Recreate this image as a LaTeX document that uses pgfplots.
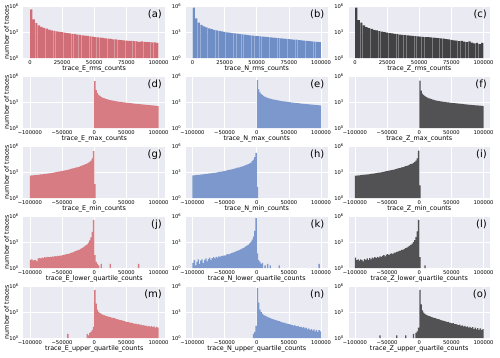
\documentclass[border=0pt]{standalone}
\usepackage{fontspec}
\setmainfont{DejaVu Sans}
\usepackage{pgfplots}
\pgfplotsset{compat=1.18}
\definecolor{bgc}{RGB}{234,234,242}
\definecolor{redc}{RGB}{207,110,118}
\definecolor{bluec}{RGB}{112,142,198}
\definecolor{grayc}{RGB}{66,66,68}
\definecolor{redd}{RGB}{214,124,130}
\definecolor{blued}{RGB}{124,152,204}
\definecolor{grayd}{RGB}{82,82,84}
\pgfplotsset{
  histpanel/.style={
    scale only axis, width=141.5pt, height=52pt, anchor=north west,
    ymin=1, ymax=1.1e6,
    ytick={1,1000,1000000},
    yticklabels={10\textsuperscript{0},10\textsuperscript{3},10\textsuperscript{6}},
    scaled x ticks=false,
    axis background/.style={fill=bgc},
    axis line style={draw=none},
    major tick length=0pt, minor tick length=0pt,
    grid=major, grid style={white, line width=0.6pt},
    tick label style={font=\fontsize{5.2}{6}\selectfont, inner sep=0pt},
    xticklabel style={anchor=north, yshift=-2pt},
    yticklabel style={anchor=east, xshift=-4.5pt},
    xlabel style={font=\fontsize{6.4}{7}\selectfont, at={(axis description cs:0.5,0)}, anchor=center, yshift=-10.7pt},
    ylabel style={font=\fontsize{6.3}{7}\selectfont, at={(axis description cs:-0.12,0.5)}, anchor=center},
    ybar, bar shift=0pt,
  },
  rmsrange/.style={xmin=-5000, xmax=105000, xtick={0,25000,50000,75000,100000},
    xticklabels={0,25000,50000,75000,100000}, bar width=2.2pt},
  symrange/.style={xmin=-110000, xmax=110000, xtick={-100000,-50000,0,50000,100000},
    xticklabels={−100000,−50000,0,50000,100000}, bar width=1.29pt},
}
\tikzset{
  histbars/.style={fill=#1, draw=none},
  densebars/.style={fill=#1, draw=none},
}
\newcommand{\panellabel}[1]{\node[anchor=north east, inner sep=0pt, font=\fontsize{10}{12}\selectfont, xshift=-3pt, yshift=-3.3pt] at (rel axis cs:1,1) {(#1)};}

\begin{document}
\begin{tikzpicture}
\useasboundingbox (0,0) rectangle (500pt,-357pt);

% ---------------- row 1: rms ----------------
\begin{axis}[ymode=log, histpanel, rmsrange, at={(23.5pt,-6pt)}, xlabel={trace\_E\_rms\_counts}, ylabel={number of traces}]
\addplot[histbars=redc] coordinates {
(1000,446700) (3000,31620) (5000,11220) (7000,6310) (9000,4169) (11000,3162) (13000,2512) (15000,1995) (17000,1660) (19000,1413)
(21000,1230) (23000,1096) (25000,1000) (27000,891) (29000,794) (31000,724) (33000,646) (35000,589) (37000,525) (39000,479)
(41000,437) (43000,398) (45000,363) (47000,331) (49000,302) (51000,275) (53000,251) (55000,234) (57000,214) (59000,195)
(61000,182) (63000,170) (65000,151) (67000,145) (69000,129) (71000,120) (73000,110) (75000,102) (77000,98) (79000,96)
(81000,89) (83000,85) (85000,76) (87000,84) (89000,74) (91000,71) (93000,70) (95000,65) (97000,64) (99000,59)
};
\panellabel{a}
\end{axis}

\begin{axis}[ymode=log, histpanel, rmsrange, at={(186pt,-6pt)}, xlabel={trace\_N\_rms\_counts}]
\addplot[histbars=bluec] coordinates {
(1000,707900) (3000,39810) (5000,12590) (7000,7079) (9000,4786) (11000,3548) (13000,2754) (15000,2239) (17000,1862) (19000,1585)
(21000,1380) (23000,1202) (25000,1072) (27000,955) (29000,871) (31000,794) (33000,724) (35000,661) (37000,603) (39000,550)
(41000,513) (43000,468) (45000,437) (47000,407) (49000,380) (51000,355) (53000,331) (55000,309) (57000,288) (59000,269)
(61000,251) (63000,234) (65000,219) (67000,209) (69000,195) (71000,182) (73000,170) (75000,158) (77000,151) (79000,141)
(81000,135) (83000,120) (85000,112) (87000,105) (89000,100) (91000,91) (93000,83) (95000,79) (97000,74) (99000,71)
};
\panellabel{b}
\end{axis}

\begin{axis}[ymode=log, histpanel, rmsrange, at={(348.5pt,-6pt)}, xlabel={trace\_Z\_rms\_counts}]
\addplot[histbars=grayc] coordinates {
(1000,707900) (3000,25120) (5000,12590) (7000,6310) (9000,3981) (11000,3020) (13000,2399) (15000,1905) (17000,1585) (19000,1349)
(21000,1148) (23000,1000) (25000,891) (27000,794) (29000,724) (31000,646) (33000,589) (35000,537) (37000,490) (39000,457)
(41000,417) (43000,389) (45000,363) (47000,347) (49000,331) (51000,309) (53000,288) (55000,275) (57000,263) (59000,245)
(61000,234) (63000,219) (65000,204) (67000,191) (69000,174) (71000,158) (73000,145) (75000,126) (77000,112) (79000,105)
(81000,89) (83000,95) (85000,79) (87000,71) (89000,83) (91000,63) (93000,50) (95000,56) (97000,40) (99000,56)
};
\panellabel{c}
\end{axis}

% ---------------- row 2: max ----------------
\begin{axis}[ymode=log, histpanel, symrange, at={(23.5pt,-76pt)}, xlabel={trace\_E\_max\_counts}, ylabel={number of traces}]
\addplot[densebars=redd] coordinates {
(1000,281800) (3000,25120) (5000,11220) (7000,7079) (9000,5248) (11000,4169) (13000,3467) (15000,2951) (17000,2570) (19000,2291)
(21000,2089) (23000,1905) (25000,1738) (27000,1622) (29000,1514) (31000,1413) (33000,1318) (35000,1259) (37000,1175) (39000,1122)
(41000,1072) (43000,1023) (45000,977) (47000,933) (49000,891) (51000,851) (53000,813) (55000,776) (57000,759) (59000,724)
(61000,692) (63000,676) (65000,646) (67000,631) (69000,603) (71000,589) (73000,562) (75000,550) (77000,525) (79000,513)
(81000,490) (83000,479) (85000,457) (87000,447) (89000,427) (91000,417) (93000,398) (95000,389) (97000,372) (99000,355)
};
\panellabel{d}
\end{axis}

\begin{axis}[ymode=log, histpanel, symrange, at={(186pt,-76pt)}, xlabel={trace\_N\_max\_counts}]
\addplot[densebars=blued] coordinates {
(1000,354800) (3000,31620) (5000,14130) (7000,8913) (9000,6607) (11000,5248) (13000,4266) (15000,3631) (17000,3162) (19000,2818)
(21000,2512) (23000,2291) (25000,2089) (27000,1950) (29000,1820) (31000,1698) (33000,1585) (35000,1479) (37000,1413) (39000,1318)
(41000,1259) (43000,1202) (45000,1148) (47000,1096) (49000,1047) (51000,1000) (53000,955) (55000,912) (57000,871) (59000,851)
(61000,813) (63000,776) (65000,759) (67000,724) (69000,692) (71000,676) (73000,646) (75000,631) (77000,603) (79000,589)
(81000,562) (83000,550) (85000,525) (87000,513) (89000,490) (91000,479) (93000,457) (95000,447) (97000,427) (99000,417)
};
\panellabel{e}
\end{axis}

\begin{axis}[ymode=log, histpanel, symrange, at={(348.5pt,-76pt)}, xlabel={trace\_Z\_max\_counts}]
\addplot[densebars=grayd] coordinates {
(1000,316200) (3000,22390) (5000,10000) (7000,6607) (9000,5012) (11000,3981) (13000,3311) (15000,2818) (17000,2512) (19000,2239)
(21000,1995) (23000,1820) (25000,1660) (27000,1549) (29000,1445) (31000,1349) (33000,1259) (35000,1202) (37000,1122) (39000,1072)
(41000,1023) (43000,977) (45000,933) (47000,891) (49000,851) (51000,813) (53000,794) (55000,759) (57000,724) (59000,708)
(61000,676) (63000,661) (65000,631) (67000,617) (69000,589) (71000,575) (73000,550) (75000,537) (77000,513) (79000,501)
(81000,479) (83000,468) (85000,457) (87000,437) (89000,427) (91000,417) (93000,398) (95000,389) (97000,380) (99000,363)
};
\panellabel{f}
\end{axis}

% ---------------- row 3: min ----------------
\begin{axis}[ymode=log, histpanel, symrange, at={(23.5pt,-146pt)}, xlabel={trace\_E\_min\_counts}, ylabel={number of traces}]
\addplot[densebars=redd] coordinates {
(-99000,398) (-97000,417) (-95000,427) (-93000,447) (-91000,468) (-89000,490) (-87000,501) (-85000,525) (-83000,550) (-81000,562)
(-79000,589) (-77000,617) (-75000,646) (-73000,676) (-71000,708) (-69000,741) (-67000,794) (-65000,832) (-63000,891) (-61000,933)
(-59000,1000) (-57000,1072) (-55000,1148) (-53000,1230) (-51000,1318) (-49000,1413) (-47000,1514) (-45000,1660) (-43000,1778) (-41000,1905)
(-39000,2089) (-37000,2291) (-35000,2512) (-33000,2754) (-31000,3020) (-29000,3311) (-27000,3631) (-25000,3981) (-23000,4467) (-21000,5012)
(-19000,5623) (-17000,6457) (-15000,7586) (-13000,8710) (-11000,10230) (-9000,12590) (-7000,15850) (-5000,22390) (-3000,39810) (-1000,281800)
(1000,40)
};
\panellabel{g}
\end{axis}

\begin{axis}[ymode=log, histpanel, symrange, at={(186pt,-146pt)}, xlabel={trace\_N\_min\_counts}]
\addplot[densebars=blued] coordinates {
(-99000,427) (-97000,437) (-95000,457) (-93000,468) (-91000,490) (-89000,501) (-87000,525) (-85000,550) (-83000,562) (-81000,589)
(-79000,617) (-77000,646) (-75000,676) (-73000,708) (-71000,741) (-69000,776) (-67000,813) (-65000,851) (-63000,912) (-61000,955)
(-59000,1023) (-57000,1096) (-55000,1175) (-53000,1259) (-51000,1349) (-49000,1445) (-47000,1549) (-45000,1698) (-43000,1820) (-41000,1950)
(-39000,2138) (-37000,2344) (-35000,2570) (-33000,2818) (-31000,3090) (-29000,3388) (-27000,3715) (-25000,4074) (-23000,4571) (-21000,5129)
(-19000,5754) (-17000,6607) (-15000,7762) (-13000,8913) (-11000,10470) (-9000,13180) (-7000,19950) (-5000,28180) (-3000,56230) (-1000,177800)
(1000,20)
};
\panellabel{h}
\end{axis}

\begin{axis}[ymode=log, histpanel, symrange, at={(348.5pt,-146pt)}, xlabel={trace\_Z\_min\_counts}]
\addplot[densebars=grayd] coordinates {
(-99000,389) (-97000,407) (-95000,417) (-93000,437) (-91000,457) (-89000,479) (-87000,490) (-85000,513) (-83000,537) (-81000,550)
(-79000,575) (-77000,603) (-75000,631) (-73000,661) (-71000,692) (-69000,724) (-67000,776) (-65000,813) (-63000,871) (-61000,912)
(-59000,977) (-57000,1047) (-55000,1122) (-53000,1202) (-51000,1288) (-49000,1380) (-47000,1479) (-45000,1622) (-43000,1738) (-41000,1862)
(-39000,2042) (-37000,2239) (-35000,2455) (-33000,2692) (-31000,2951) (-29000,3236) (-27000,3548) (-25000,3890) (-23000,4365) (-21000,4898)
(-19000,5495) (-17000,6310) (-15000,7413) (-13000,8511) (-11000,10000) (-9000,12300) (-7000,15490) (-5000,21880) (-3000,38900) (-1000,316200)
(1000,30)
};
\panellabel{i}
\end{axis}

% ---------------- row 4: lower quartile ----------------
\begin{axis}[ymode=log, histpanel, symrange, at={(23.5pt,-216pt)}, xlabel={trace\_E\_lower\_quartile\_counts}, ylabel={number of traces}]
\addplot[densebars=redd] coordinates {
(-99000,9) (-97000,10) (-95000,7) (-93000,9) (-91000,8) (-89000,6) (-87000,13) (-85000,14) (-83000,13) (-81000,16)
(-79000,14) (-77000,18) (-75000,16) (-73000,20) (-71000,18) (-69000,20) (-67000,19) (-65000,22) (-63000,20) (-61000,24)
(-59000,22) (-57000,26) (-55000,25) (-53000,28) (-51000,27) (-49000,32) (-47000,33) (-45000,35) (-43000,40) (-41000,42)
(-39000,48) (-37000,52) (-35000,60) (-33000,66) (-31000,79) (-29000,89) (-27000,105) (-25000,120) (-23000,141) (-21000,166)
(-19000,200) (-17000,251) (-15000,316) (-13000,417) (-11000,575) (-9000,891) (-7000,1585) (-5000,3548) (-3000,15850) (-1000,398100)
(1000,32) (3000,5) (5000,3) (7000,2) (11000,3) (25000,3) (69000,3)
};
\panellabel{j}
\end{axis}

\begin{axis}[ymode=log, histpanel, symrange, at={(186pt,-216pt)}, xlabel={trace\_N\_lower\_quartile\_counts}]
\addplot[densebars=blued] coordinates {
(-99000,4) (-97000,8) (-95000,2) (-93000,5) (-91000,10) (-89000,3) (-87000,7) (-85000,10) (-83000,4) (-81000,9)
(-79000,13) (-77000,6) (-75000,11) (-73000,16) (-71000,9) (-69000,14) (-67000,18) (-65000,13) (-63000,20) (-61000,16)
(-59000,22) (-57000,20) (-55000,26) (-53000,24) (-51000,30) (-49000,28) (-47000,35) (-45000,40) (-43000,38) (-41000,48)
(-39000,52) (-37000,60) (-35000,71) (-33000,79) (-31000,91) (-29000,105) (-27000,126) (-25000,145) (-23000,174) (-21000,209)
(-19000,251) (-17000,316) (-15000,398) (-13000,525) (-11000,724) (-9000,1122) (-7000,1995) (-5000,4467) (-3000,19950) (-1000,631000)
(1000,50) (3000,8) (5000,5) (7000,3) (9000,4) (13000,2) (17000,3) (21000,2) (35000,2) (97000,3)
};
\panellabel{k}
\end{axis}

\begin{axis}[ymode=log, histpanel, symrange, at={(348.5pt,-216pt)}, xlabel={trace\_Z\_lower\_quartile\_counts}]
\addplot[densebars=grayd] coordinates {
(-99000,16) (-97000,8) (-95000,10) (-93000,7) (-91000,10) (-89000,8) (-87000,6) (-85000,11) (-83000,9) (-81000,13)
(-79000,8) (-77000,14) (-75000,10) (-73000,16) (-71000,13) (-69000,18) (-67000,14) (-65000,20) (-63000,16) (-61000,22)
(-59000,20) (-57000,25) (-55000,32) (-53000,22) (-51000,35) (-49000,40) (-47000,32) (-45000,45) (-43000,50) (-41000,45)
(-39000,63) (-37000,60) (-35000,76) (-33000,79) (-31000,100) (-29000,105) (-27000,126) (-25000,141) (-23000,166) (-21000,200)
(-19000,240) (-17000,302) (-15000,380) (-13000,501) (-11000,692) (-9000,1000) (-7000,1778) (-5000,3981) (-3000,17780) (-1000,398100)
(1000,18) (9000,2)
};
\panellabel{l}
\end{axis}

% ---------------- row 5: upper quartile ----------------
\begin{axis}[ymode=log, histpanel, symrange, at={(23.5pt,-286pt)}, xlabel={trace\_E\_upper\_quartile\_counts}, ylabel={number of traces}]
\addplot[densebars=redd] coordinates {
(-41000,3) (-11000,3) (-9000,2) (-7000,4) (-5000,5) (-3000,8) (-1000,20)
(1000,398100) (3000,10000) (5000,1995) (7000,1122) (9000,794) (11000,631) (13000,525) (15000,447) (17000,398) (19000,355)
(21000,316) (23000,282) (25000,263) (27000,240) (29000,214) (31000,200) (33000,178) (35000,158) (37000,151) (39000,132)
(41000,120) (43000,112) (45000,95) (47000,89) (49000,79) (51000,71) (53000,76) (55000,63) (57000,60) (59000,52)
(61000,50) (63000,45) (65000,48) (67000,38) (69000,40) (71000,33) (73000,35) (75000,30) (77000,32) (79000,26)
(81000,28) (83000,22) (85000,26) (87000,20) (89000,24) (91000,18) (93000,22) (95000,16) (97000,20) (99000,16)
};
\panellabel{m}
\end{axis}

\begin{axis}[ymode=log, histpanel, symrange, at={(186pt,-286pt)}, xlabel={trace\_N\_upper\_quartile\_counts}]
\addplot[densebars=blued] coordinates {
(-5000,3) (-3000,5) (-1000,25)
(1000,631000) (3000,12590) (5000,1995) (7000,1000) (9000,661) (11000,501) (13000,398) (15000,331) (17000,282) (19000,240)
(21000,209) (23000,182) (25000,158) (27000,141) (29000,126) (31000,112) (33000,100) (35000,89) (37000,79) (39000,71)
(41000,63) (43000,60) (45000,50) (47000,48) (49000,40) (51000,42) (53000,35) (55000,32) (57000,28) (59000,32)
(61000,24) (63000,22) (65000,25) (67000,18) (69000,20) (71000,16) (73000,18) (75000,13) (77000,16) (79000,10)
(81000,13) (83000,9) (85000,11) (87000,7) (89000,10) (91000,6) (93000,9) (95000,5) (97000,8) (99000,6)
};
\panellabel{n}
\end{axis}

\begin{axis}[ymode=log, histpanel, symrange, at={(348.5pt,-286pt)}, xlabel={trace\_Z\_upper\_quartile\_counts}]
\addplot[densebars=grayd] coordinates {
(-61000,2) (-35000,2) (-21000,2) (-9000,3) (-5000,4) (-3000,6) (-1000,16)
(1000,398100) (3000,7943) (5000,1585) (7000,891) (9000,631) (11000,501) (13000,417) (15000,355) (17000,316) (19000,275)
(21000,251) (23000,224) (25000,200) (27000,182) (29000,158) (31000,148) (33000,132) (35000,115) (37000,107) (39000,91)
(41000,85) (43000,71) (45000,76) (47000,60) (49000,56) (51000,50) (53000,52) (55000,40) (57000,42) (59000,35)
(61000,32) (63000,35) (65000,26) (67000,30) (69000,22) (71000,25) (73000,19) (75000,22) (77000,16) (79000,20)
(81000,14) (83000,18) (85000,11) (87000,16) (89000,10) (91000,14) (93000,9) (95000,13) (97000,8) (99000,11)
};
\panellabel{o}
\end{axis}

\end{tikzpicture}
\end{document}
